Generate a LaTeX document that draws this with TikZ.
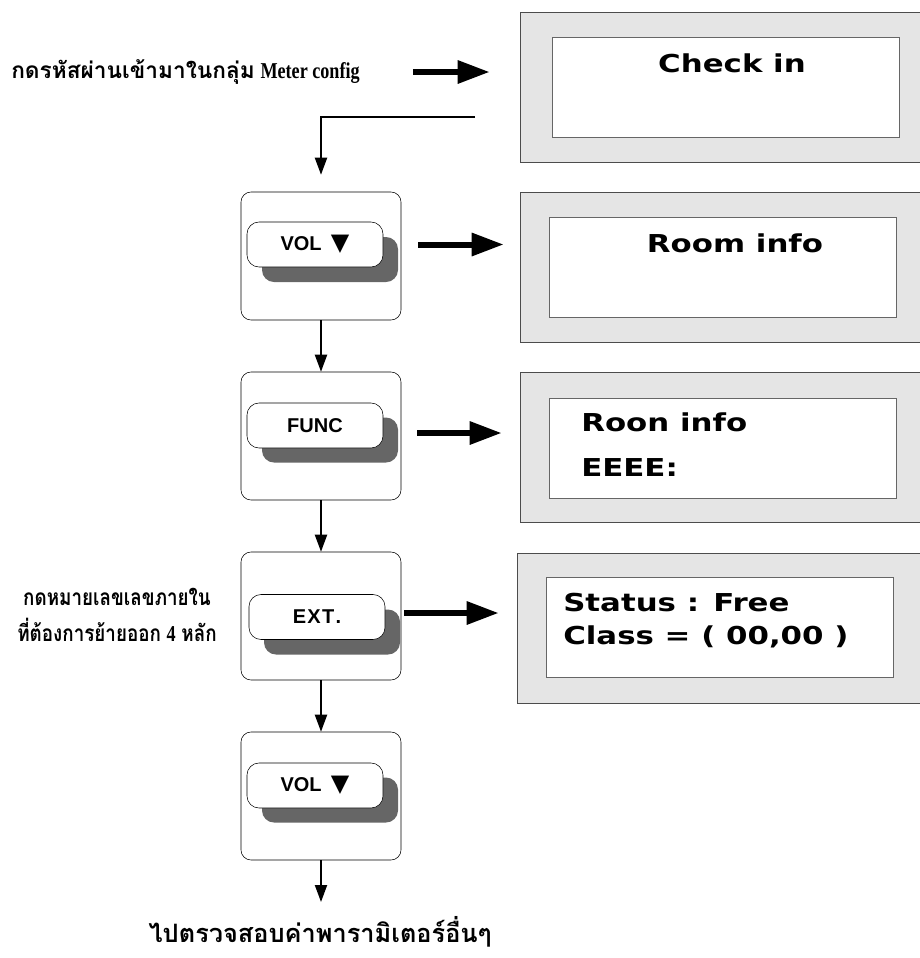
\documentclass[tikz,border=0pt]{standalone}
\usepackage{fontspec}
\setmainfont{Liberation Serif}
\newfontfamily\thaifont[Script=Thai]{Loma}
\newfontfamily\thainarrow[Script=Thai, FakeStretch=0.83]{Loma}
\newfontfamily\narrowserif[FakeStretch=0.8]{Liberation Serif}
\newfontfamily\lcdfont[FakeStretch=1.25]{DejaVu Sans}
\newfontfamily\keyfont{Liberation Sans}
\newfontfamily\symfont{DejaVu Sans}
\usetikzlibrary{arrows.meta, positioning, calc}

\tikzset{
  panel/.style={draw=black!70, fill=black!10, minimum width=303.75pt, minimum height=112.5pt, inner sep=0pt},
  lcd/.style={draw=black!60, fill=white, minimum width=260.25pt, minimum height=75pt, inner sep=0pt},
  lcdtext/.style={font=\lcdfont\bfseries\fontsize{18.5}{22}\selectfont, inner sep=0pt},
  keybox/.style={draw, rounded corners=7.5pt, minimum width=120pt, minimum height=96pt, inner sep=0pt},
  keycap/.style={draw, fill=white, rounded corners=9pt, minimum width=102pt, minimum height=33.75pt, inner sep=0pt, font=\keyfont\bfseries\fontsize{15}{18}\selectfont},
  keyshadow/.style={fill=black!60, rounded corners=9pt, minimum width=102pt, minimum height=33.75pt, inner sep=0pt},
  flow/.style={-{Triangle[width=9pt,length=12.75pt]}, line width=1.5pt},
  bigarrow/.style={-{Triangle[width=16.5pt,length=24pt]}, line width=4.5pt},
  thaitext/.style={font=\bfseries\fontsize{17}{27}\selectfont, align=center, inner sep=0pt},
}
\newcommand{\dnmark}{{\symfont\fontsize{18}{18}\selectfont ▼}}

\begin{document}
\begin{tikzpicture}[x=0.75pt, y=-0.75pt]
  \useasboundingbox (0,0) rectangle (920,958);
  \clip (0,0) rectangle (920,958);

  % Jor sadaeng phon
  \node[panel] (p0) at (722.5,87) {};
  \node[lcd] (l0) at (725.5,87) {};
  \node[lcdtext] (t0) at (732,63) {Check in};

  \node[panel] (p1) at (722.5,267.5) {};
  \node[lcd] (l1) at (722.5,267.5) {};
  \node[lcdtext] (t1) at (735,243) {Room info};

  \node[panel] (p2) at (722.5,447.5) {};
  \node[lcd] (l2) at (722.5,448) {};
  \node[lcdtext, anchor=west] (t2a) at (581,422) {Roon info};
  \node[lcdtext, anchor=west] (t2b) at (581,468) {EEEE:};

  \node[panel] (p3) at (719.5,628) {};
  \node[lcd] (l3) at (719.5,627.5) {};
  \node[lcdtext, anchor=west] (t3a) at (563,603) {Status : Free};
  \node[lcdtext, anchor=west] (t3b) at (563,637) {Class = ( 00,00 )};

  % Pum kod
  \node[keybox] (k1) at (321,256) {};
  \node[keyshadow] (s1) at (330,259.5) {};
  \node[keycap] (b1) at (315,244.5) {VOL\hspace{7pt}\dnmark};

  \node[keybox] (k2) at (321,436) {};
  \node[keyshadow] (s2) at (330,440) {};
  \node[keycap] (b2) at (315,425.5) {FUNC};

  \node[keybox] (k3) at (321,616) {};
  \node[keyshadow] (s3) at (332,632) {};
  \node[keycap] (b3) at (317,617) {E\kern1ptX\kern1ptT\kern1pt.};

  \node[keybox] (k4) at (321,796) {};
  \node[keyshadow] (s4) at (330,800) {};
  \node[keycap] (b4) at (315,785.5) {VOL\hspace{7pt}\dnmark};

  % Kham athibai
  \node[thaitext, anchor=west] (intro) at (11,72) {{\thaifont กดรหัสผ่านเข้ามาในกลุ่ม} {\narrowserif Meter config}};
  \node[thaitext] (note) at (117,615) {{\thainarrow กดหมายเลขเลขภายใน}\\{\thainarrow ที่ต้องการย้ายออก} {\narrowserif 4} {\thainarrow หลัก}};
  \node[thaitext, font=\bfseries\fontsize{19}{27}\selectfont] (next) at (320,932) {{\thaifont ไปตรวจสอบค่าพารามิเตอร์อื่นๆ}};

  % Luk sorn lak
  \coordinate (lstart) at (475,117);
  \coordinate (goon) at (321,902);
  \draw[flow, shorten >=12.75pt] (lstart) -| (k1.north);
  \draw[flow] (k1.south) -- (k2.north);
  \draw[flow] (k2.south) -- (k3.north);
  \draw[flow] (k3.south) -- (k4.north);
  \draw[flow] (k4.south) -- (goon);

  % Luk sorn pai jor
  \draw[bigarrow, shorten <=39.75pt, shorten >=22.5pt] (intro.east) -- (intro.east -| p0.west);
  \draw[bigarrow, shorten <=12.75pt, shorten >=12pt] (k1.east |- b1) -- (b1 -| p1.west);
  \draw[bigarrow, shorten <=12pt, shorten >=13.5pt] (k2.east |- 0,433) -- (p2.west |- 0,433);
  \draw[bigarrow, shorten <=2.25pt, shorten >=13.5pt] (k3.east |- 0,613) -- (p3.west |- 0,613);
\end{tikzpicture}
\end{document}
